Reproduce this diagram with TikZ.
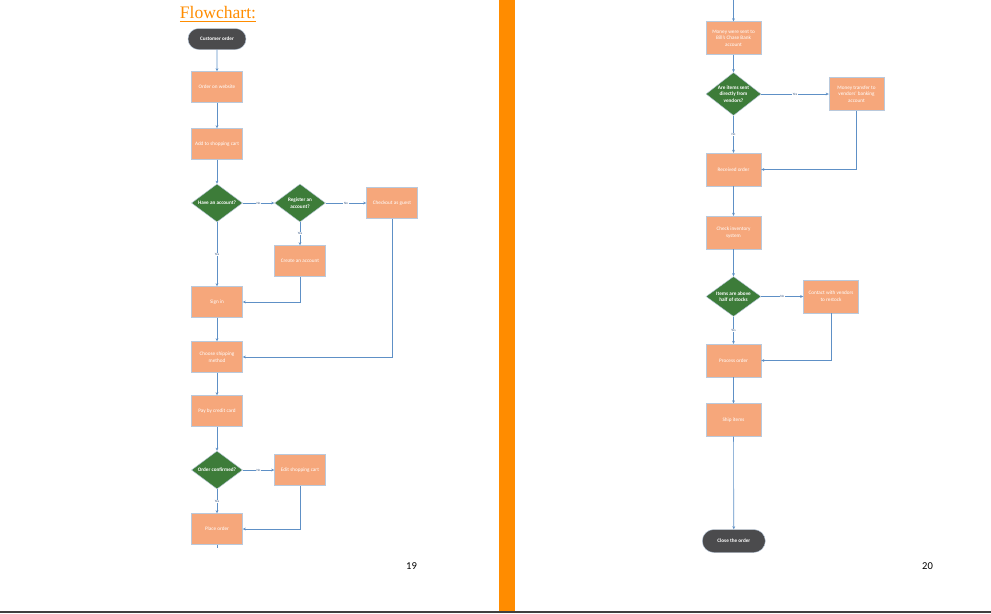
\documentclass[tikz,border=0pt]{standalone}
\usepackage{fontspec}
\setmainfont{Carlito}
\newfontfamily\titlefont{Liberation Serif}
\usepackage{tikz}
\usepackage{xcolor}
\usetikzlibrary{shapes.geometric}
\usetikzlibrary{shapes.misc}
\usetikzlibrary{arrows.meta}

\definecolor{boxorange}{HTML}{F6A77B}
\definecolor{decgreen}{HTML}{3D7C39}
\definecolor{termgray}{HTML}{4B4B4D}
\definecolor{linkblue}{HTML}{5E90C6}
\definecolor{edgeblue}{HTML}{B9C9DC}
\definecolor{labelblue}{HTML}{3A5A86}
\definecolor{bandorange}{HTML}{FF8C00}

\begin{document}
\begin{tikzpicture}[x=0.025cm,y=-0.025cm,
  proc/.style={rectangle,fill=boxorange,draw=edgeblue,line width=0.3pt,minimum width=1.275cm,minimum height=0.775cm,inner sep=0pt,align=center,text=white,font=\fontsize{3.7}{4.7}\selectfont},
  wide/.style={proc,minimum width=1.375cm,minimum height=0.82cm},
  dec/.style={diamond,fill=decgreen,draw=edgeblue,line width=0.3pt,minimum width=1.275cm,minimum height=0.95cm,inner sep=0pt},
  dectext/.style={text=white,align=center,inner sep=0pt,font=\bfseries\fontsize{3.7}{4.7}\selectfont},
  term/.style={rounded rectangle,fill=termgray,draw=edgeblue,line width=0.3pt,minimum width=1.45cm,minimum height=0.525cm,inner sep=0pt,text=white,font=\bfseries\fontsize{3.7}{4.7}\selectfont},
  link/.style={draw=linkblue,line width=0.45pt,-{Stealth[length=2.2pt,width=2pt]}},
  line/.style={draw=linkblue,line width=0.45pt},
  yn/.style={fill=white,inner sep=0.4pt,text=labelblue,font=\fontsize{2.4}{3}\selectfont},
  pagenum/.style={inner sep=0pt,font=\fontsize{7.5}{9}\selectfont}]
\useasboundingbox (0,0) rectangle (991,613);

\fill[bandorange] (499,0) rectangle (515,611);
\fill[black!75] (0,611) rectangle (991,613);

% page 19
\node[text=bandorange,inner sep=0pt,font=\titlefont\fontsize{12.5}{14}\selectfont] (title) at (218,14) {\underline{Flowchart:}};

\node[term] (cust) at (217,39) {Customer order};
\node[proc] (web) at (217,87) {Order on website};
\node[proc] (cart) at (217,144) {Add to shopping cart};
\node[dec,label={[dectext]center:Have an account?}] (acct) at (217,203) {};
\node[dec,label={[dectext]center:Register an\\account?}] (reg) at (300,203) {};
\node[proc] (guest) at (392,203) {Checkout as guest};
\node[proc] (create) at (300,261) {Create an account};
\node[proc] (signin) at (217,302) {Sign in};
\node[proc] (ship) at (217,357) {Choose shipping\\method};
\node[proc] (pay) at (217,411) {Pay by credit card};
\node[dec,label={[dectext]center:Order confirmed?}] (conf) at (217,470) {};
\node[proc] (edit) at (300,470) {Edit shopping cart};
\node[proc] (place) at (217,529) {Place order};
\coordinate (stub) at (217,548);
\node[pagenum] (p19) at (411.5,566.5) {19};

\draw[link] (cust) -- (web);
\draw[link] (web) -- (cart);
\draw[link] (cart) -- (acct);
\draw[link] (acct) -- node[yn] {No} (reg);
\draw[link] (reg) -- node[yn] {No} (guest);
\draw[link] (acct) -- node[yn] {Yes} (signin);
\draw[link] (reg) -- node[yn] {Yes} (create);
\draw[link] (create) |- (signin);
\draw[link] (signin) -- (ship);
\draw[link] (guest) |- (ship);
\draw[link] (ship) -- (pay);
\draw[link] (pay) -- (conf);
\draw[link] (conf) -- node[yn] {No} (edit);
\draw[link] (conf) -- node[yn] {Yes} (place);
\draw[link] (edit) |- (place);
\draw[line] (place) -- (stub);

% page 20
\coordinate (cont) at (733.5,0);
\node[wide] (sent) at (733.5,38) {Money were sent to\\Bill's Chase Bank\\account};
\node[dec,minimum width=1.375cm,minimum height=1.075cm,label={[dectext]center:Are items sent\\directly from\\vendors?}] (direct) at (733.5,94) {};
\node[wide] (transfer) at (856.5,94) {Money transfer to\\vendors' banking\\account};
\node[wide] (recv) at (733.5,169.5) {Received order};
\node[wide] (inv) at (733.5,232.5) {Check inventory\\system};
\node[dec,minimum width=1.375cm,minimum height=1cm,label={[dectext]center:Items are above\\half of stocks}] (stock) at (733.5,296.5) {};
\node[wide] (restock) at (831,296.5) {Contact with vendors\\to restock};
\node[wide] (process) at (733.5,360.5) {Process order};
\node[wide] (items) at (733.5,420) {Ship items};
\node[term,minimum width=1.575cm,minimum height=0.575cm] (close) at (733.8,541) {Close the order};
\node[pagenum] (p20) at (927.5,566.5) {20};

\draw[link] (cont) -- (sent);
\draw[link] (sent) -- (direct);
\draw[link] (direct) -- node[yn] {Yes} (transfer);
\draw[link] (direct) -- node[yn] {No} (recv);
\draw[link] (transfer) |- (recv);
\draw[link] (recv) -- (inv);
\draw[link] (inv) -- (stock);
\draw[link] (stock) -- node[yn] {No} (restock);
\draw[link] (stock) -- node[yn] {Yes} (process);
\draw[link] (restock) |- (process);
\draw[link] (process) -- (items);
\draw[link] (items) -- (close);

\end{tikzpicture}
\end{document}
